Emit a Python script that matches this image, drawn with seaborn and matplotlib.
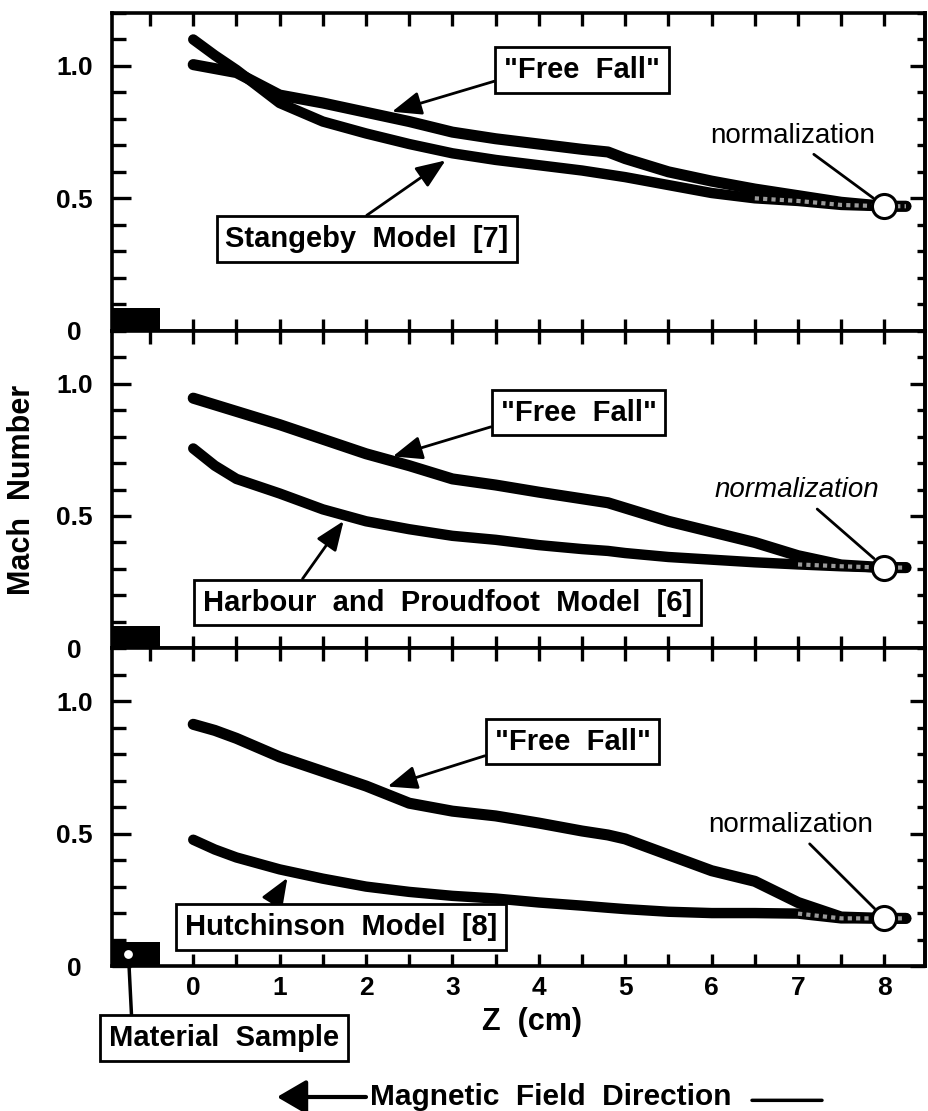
import numpy as np
import pandas as pd
import seaborn as sns
import matplotlib.pyplot as plt
from matplotlib.ticker import MultipleLocator

# --- Data ---
z_cm = [0, 0.25, 0.5, 1, 1.5, 2, 2.5, 3, 3.5, 4, 4.5, 4.8, 5, 5.5, 6, 6.5, 7, 7.5, 8, 8.25]

free_fall_1 = [1.005, 0.99, 0.975, 0.89, 0.86, 0.825, 0.79, 0.75, 0.725, 0.705,
               0.685, 0.675, 0.65, 0.60, 0.565, 0.535, 0.51, 0.485, 0.47, 0.47]
stangeby = [1.10, 1.04, 0.985, 0.86, 0.79, 0.745, 0.705, 0.67, 0.645, 0.625,
            0.605, 0.59, 0.58, 0.55, 0.52, 0.50, 0.49, 0.475, 0.47, 0.47]

free_fall_2 = [0.945, 0.92, 0.895, 0.845, 0.79, 0.735, 0.69, 0.64, 0.617, 0.59,
               0.565, 0.55, 0.53, 0.48, 0.44, 0.40, 0.35, 0.315, 0.305, 0.305]
harbour = [0.755, 0.69, 0.64, 0.585, 0.525, 0.48, 0.45, 0.425, 0.41, 0.39,
           0.375, 0.368, 0.36, 0.345, 0.335, 0.325, 0.317, 0.31, 0.305, 0.305]

free_fall_3 = [0.913, 0.89, 0.86, 0.79, 0.735, 0.68, 0.615, 0.585, 0.567, 0.54,
               0.51, 0.495, 0.48, 0.42, 0.36, 0.32, 0.24, 0.185, 0.18, 0.18]
hutchinson = [0.477, 0.44, 0.41, 0.365, 0.33, 0.30, 0.28, 0.265, 0.255, 0.24,
              0.228, 0.22, 0.215, 0.205, 0.20, 0.20, 0.198, 0.18, 0.18, 0.18]

model_labels = ['Stangeby  Model  [7]', 'Harbour  and  Proudfoot  Model  [6]',
                'Hutchinson  Model  [8]']
norm_z = 8.0
norm_mach = [0.47, 0.305, 0.18]
sample_z = [-0.94, -0.38]
sample_height = [0.085, 0.085, 0.09]

y_ticks = [0, 0.5, 1.0]
y_tick_labels = ['0', '0.5', '1.0']
x_ticks = [0, 1, 2, 3, 4, 5, 6, 7, 8]

rows = []
for p, (ff, mod) in enumerate([(free_fall_1, stangeby), (free_fall_2, harbour),
                               (free_fall_3, hutchinson)]):
    for zz, a, b in zip(z_cm, ff, mod):
        rows.append((p, 'Free Fall', zz, a))
        rows.append((p, 'Model', zz, b))
df = pd.DataFrame(rows, columns=['panel', 'curve', 'z', 'mach'])

# --- Layout / annotation positions (data coords of each panel) ---
tail_start = [6.1, 6.7, 6.9]
ff_text = [(4.50, 0.985), (4.46, 0.89), (4.39, 0.848)]
ff_tip = [(2.30, 0.827), (2.31, 0.725), (2.25, 0.678)]
ff_rel = [(0, 0.2), (0, 0.1), (0, 0.1)]
model_text = [(2.01, 0.346), (2.94, 0.173), (1.71, 0.148)]
model_tip = [(2.92, 0.643), (1.74, 0.481), (1.09, 0.333)]
model_rel = [(0.45, 1), (0.19, 1), (0.26, 1)]
norm_text = [(6.94, 0.737), (6.99, 0.598), (6.91, 0.534)]
norm_style = ['normal', 'italic', 'normal']

sns.set_theme(style='ticks')
plt.rcParams['font.family'] = ['Liberation Sans', 'DejaVu Sans']
plt.rcParams['font.weight'] = 'bold'
for key in ['text.color', 'axes.labelcolor', 'xtick.color', 'ytick.color',
            'axes.edgecolor']:
    plt.rcParams[key] = 'black'

fig = plt.figure(figsize=(9.29, 11.11), dpi=100)
gs = fig.add_gridspec(3, 1, left=0.1206, right=0.9957, top=0.9883,
                      bottom=0.1305, hspace=0)
axes = [fig.add_subplot(gs[i]) for i in range(3)]

box = dict(boxstyle='square,pad=0.3', fc='white', ec='black', lw=2)
head = '-|>,head_length=0.5,head_width=0.2'

for i, ax in enumerate(axes):
    sub = df[df.panel == i]
    for curve in ['Free Fall', 'Model']:
        d = sub[sub.curve == curve]
        sns.lineplot(data=d, x='z', y='mach', ax=ax, color='black',
                     linewidth=8 if curve == 'Free Fall' else 7.5,
                     sort=False, legend=False, solid_capstyle='round',
                     solid_joinstyle='round')
    tail = sub[(sub.curve == 'Model') & (sub.z >= tail_start[i])]
    sns.lineplot(data=tail, x='z', y='mach', ax=ax, color='0.6', linewidth=3,
                 linestyle=(0, (1, 1)), sort=False, legend=False)
    sns.scatterplot(x=[norm_z], y=[norm_mach[i]], ax=ax, s=300, color='white',
                    edgecolor='black', linewidth=2.2, zorder=5, legend=False)

    # material sample block
    ax.fill_between(sample_z, 0, sample_height[i], color='black', lw=0, zorder=4)

    ax.annotate('"Free  Fall"', xy=ff_tip[i], xytext=ff_text[i], ha='center',
                va='center', fontsize=21, bbox=box,
                arrowprops=dict(arrowstyle=head, lw=2, color='black',
                                mutation_scale=36, shrinkA=0, shrinkB=0,
                                relpos=ff_rel[i]))
    ax.annotate(model_labels[i], xy=model_tip[i], xytext=model_text[i],
                ha='center', va='center', fontsize=21, bbox=box,
                arrowprops=dict(arrowstyle=head, lw=2, color='black',
                                mutation_scale=36, shrinkA=0, shrinkB=0,
                                relpos=model_rel[i]))
    ax.annotate('normalization', xy=(norm_z, norm_mach[i]), xytext=norm_text[i],
                ha='center', va='center', fontsize=20, fontweight='normal',
                fontstyle=norm_style[i],
                arrowprops=dict(arrowstyle='-', lw=2, color='black',
                                shrinkA=3, shrinkB=10, relpos=(0.58, 0)))

    ax.set_xlim(-0.94, 8.47)
    ax.set_ylim(0, 1.2)
    ax.set_xticks(x_ticks)
    ax.xaxis.set_minor_locator(MultipleLocator(0.5))
    ax.set_yticks(y_ticks)
    ax.set_yticklabels(y_tick_labels)
    ax.yaxis.set_minor_locator(MultipleLocator(0.1))
    ax.tick_params(axis='x', which='both', direction='in', top=True, bottom=True,
                   length=9, width=2.4, labelsize=19, pad=7)
    ax.tick_params(axis='y', which='major', direction='in', left=True, right=False,
                   length=14, width=2.4, labelsize=19, pad=27)
    ax.tick_params(axis='y', which='minor', direction='in', left=True, right=False,
                   length=10, width=2.4)
    for lbl in ax.get_yticklabels():
        lbl.set_ha('center')
    if i < 2:
        ax.tick_params(axis='x', labelbottom=False)
    ax.set_xlabel('')
    ax.set_ylabel('')
    for s in ax.spines.values():
        s.set_visible(True)
        s.set_linewidth(2.6)

    sec = ax.secondary_yaxis('right')
    sec.set_yticks(y_ticks)
    sec.set_yticklabels([])
    sec.yaxis.set_minor_locator(MultipleLocator(0.1))
    sec.tick_params(which='major', direction='in', length=11, width=2.4)
    sec.tick_params(which='minor', direction='in', length=6, width=2.4)
    sec.spines['right'].set_linewidth(2.6)

# material sample marker and label
ax3 = axes[2]
sns.scatterplot(x=[-0.75], y=[0.045], ax=ax3, s=40, color='white', lw=0,
                zorder=6, legend=False)
ax3.annotate('Material  Sample', xy=(-0.75, 0.045),
             xytext=(224 / 929, 1 - 1038 / 1111), textcoords='figure fraction',
             ha='center', va='center', fontsize=21, bbox=box,
             annotation_clip=False,
             arrowprops=dict(arrowstyle='-', lw=2.5, color='black',
                             shrinkA=0, shrinkB=0, relpos=(0.1, 1)))

ax3.set_xlabel('Z  (cm)', fontsize=22, fontweight='bold')
ax3.xaxis.label.set_va('center')
ax3.xaxis.set_label_coords(0.517, -0.177)
axes[1].set_ylabel('Mach  Number', fontsize=22, fontweight='bold')
axes[1].yaxis.label.set_va('center')
axes[1].yaxis.set_label_coords(-0.111, 0.5)

# magnetic field direction
fy = 1 - 1097 / 1111
fig.text(551 / 929, fy, 'Magnetic  Field  Direction', ha='center', va='center',
         fontsize=21.5, fontweight='bold')
ax3.annotate('', xy=(277 / 929, fy), xytext=(366 / 929, fy),
             xycoords='figure fraction', textcoords='figure fraction',
             arrowprops=dict(arrowstyle='-|>,head_length=0.6,head_width=0.35',
                             lw=3, color='black', mutation_scale=30,
                             shrinkA=0, shrinkB=0))
ax3.annotate('', xy=(822 / 929, fy - 0.003), xytext=(752 / 929, fy - 0.003),
             xycoords='figure fraction', textcoords='figure fraction',
             arrowprops=dict(arrowstyle='-', lw=2.5, color='black',
                             shrinkA=0, shrinkB=0))

fig.savefig('out.png', dpi=100)
